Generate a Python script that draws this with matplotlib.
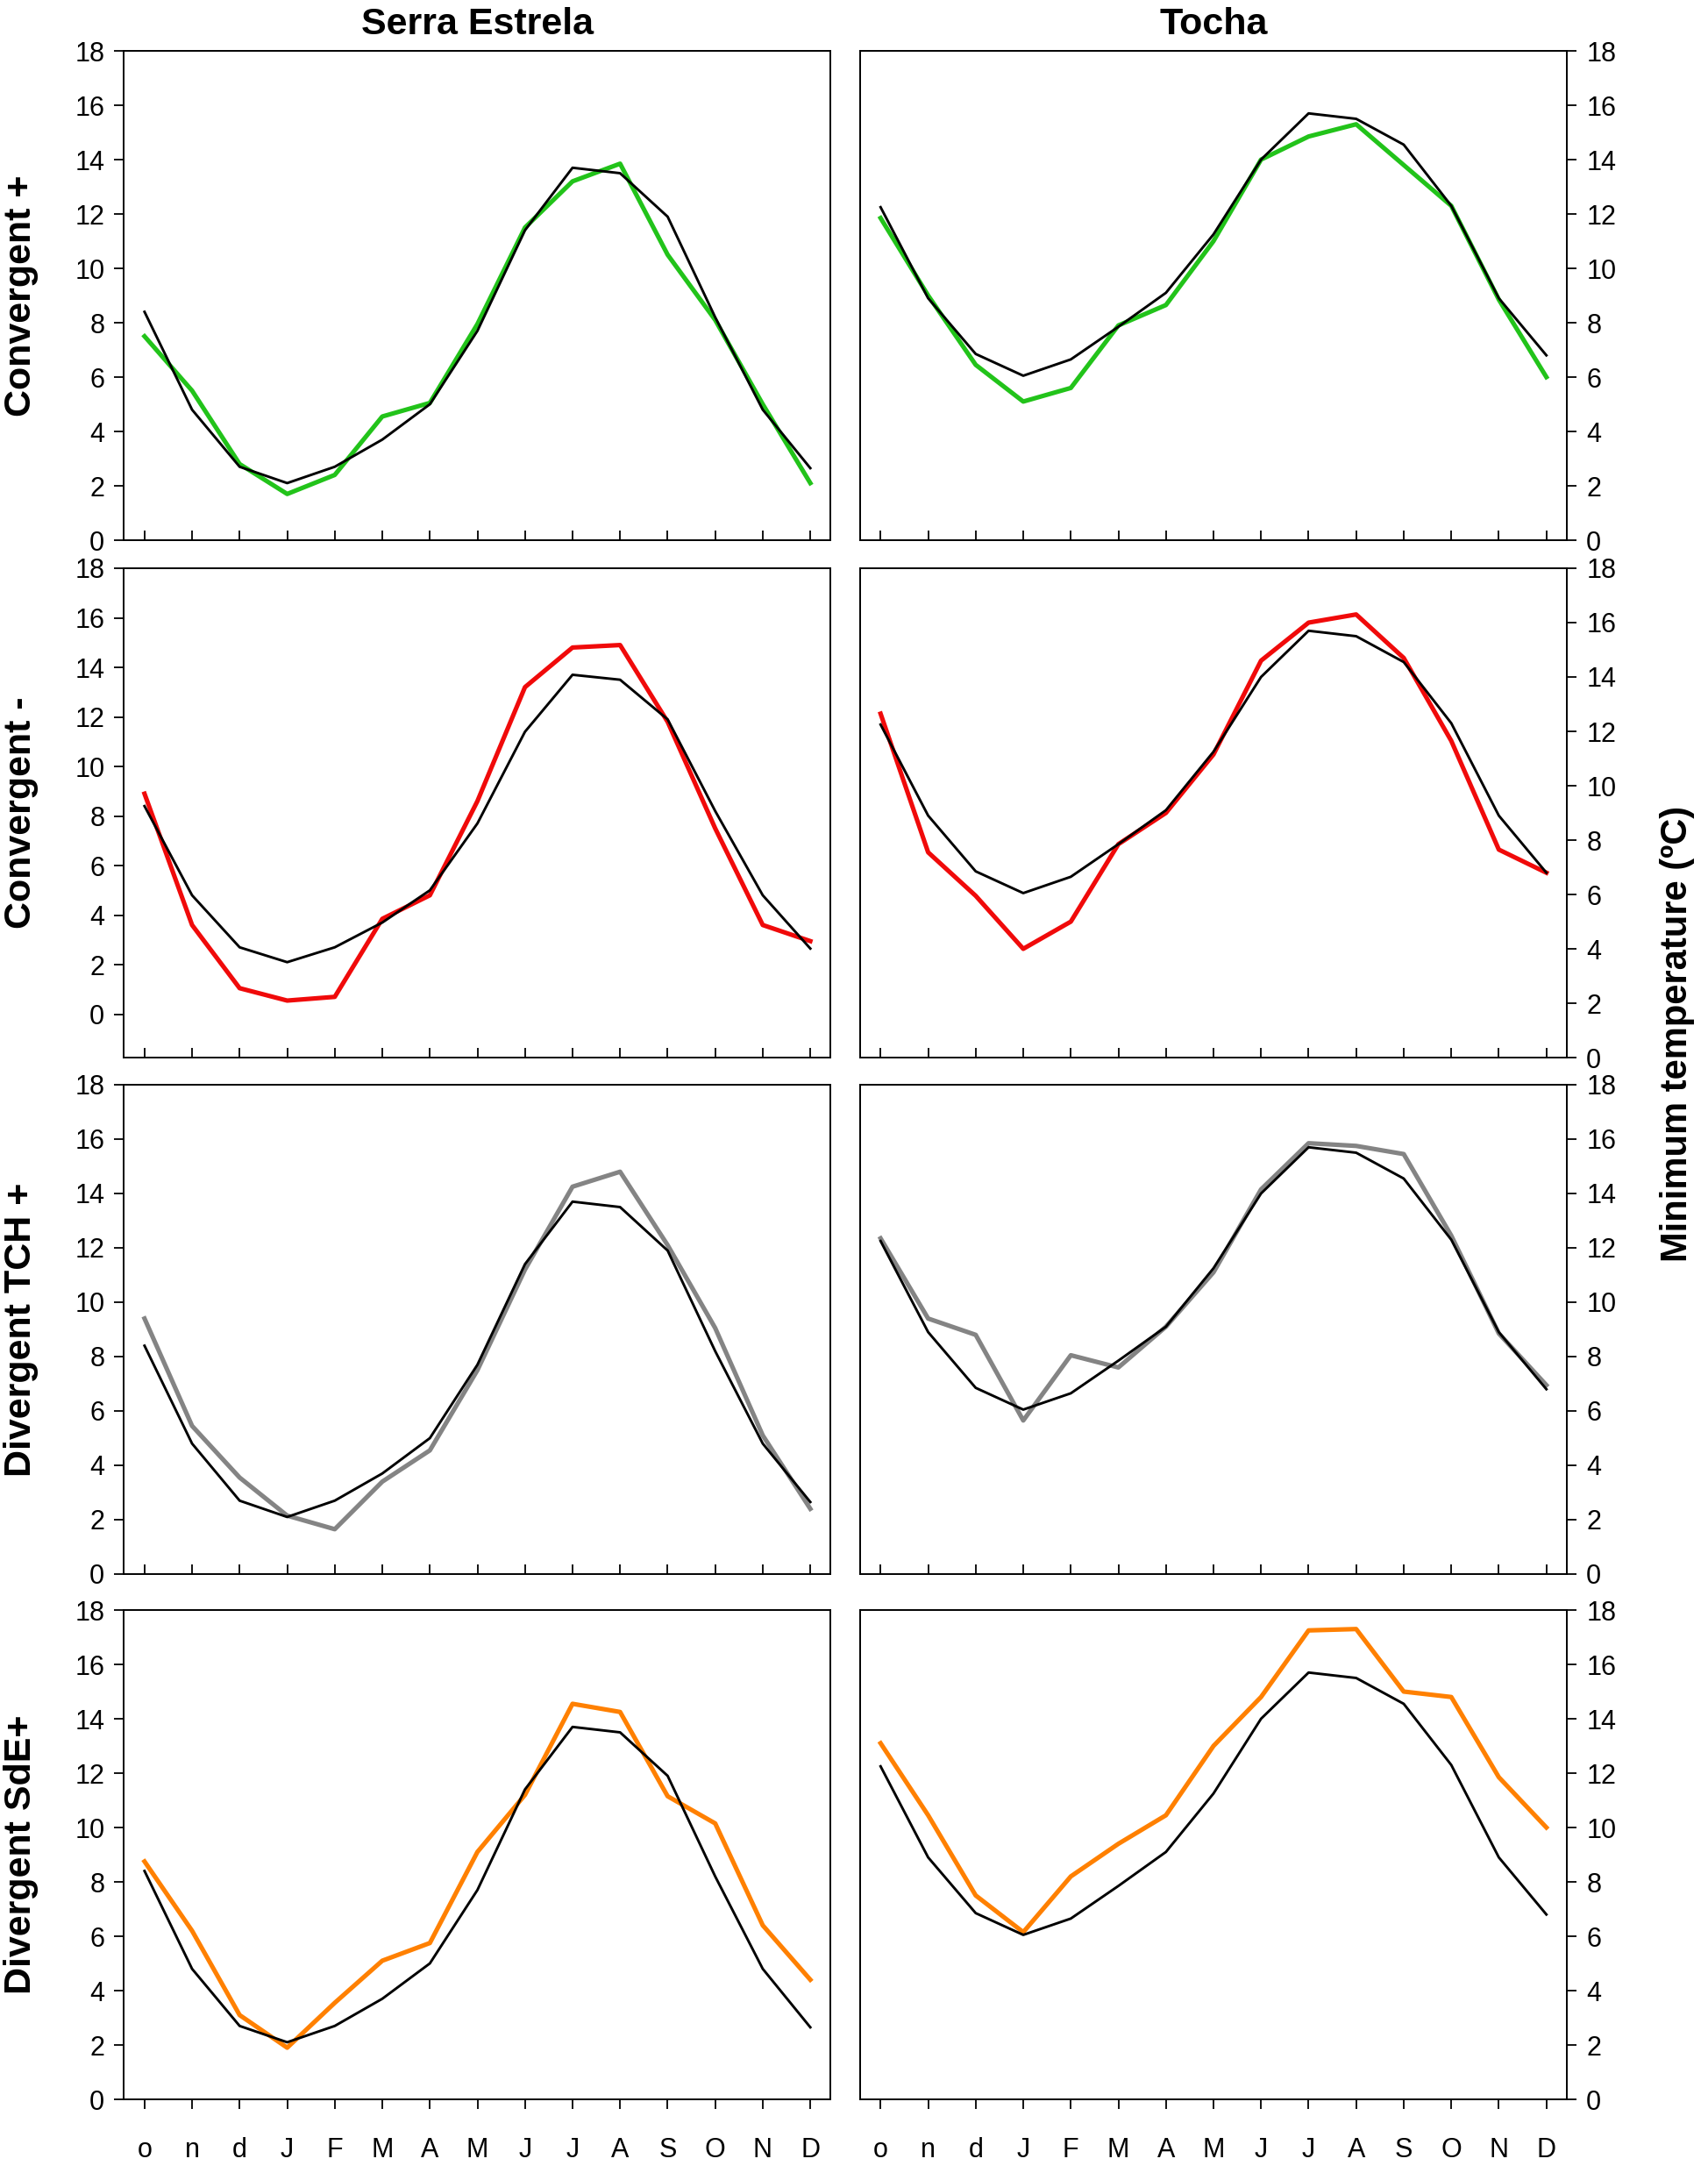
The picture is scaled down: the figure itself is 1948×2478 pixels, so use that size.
import matplotlib
matplotlib.use('Agg')
import matplotlib.pyplot as plt

plt.rcParams['font.family'] = ['Liberation Sans', 'DejaVu Sans']

months = ['o', 'n', 'd', 'J', 'F', 'M', 'A', 'M', 'J', 'J', 'A', 'S', 'O', 'N', 'D']
sites = ['Serra Estrela', 'Tocha']
row_labels = ['Convergent +', 'Convergent -', 'Divergent TCH +', 'Divergent SdE+']
ylabel_right = 'Minimum temperature (ºC)'

# Black reference (mean) curves
ref_serra = [8.4, 4.8, 2.7, 2.1, 2.7, 3.7, 5.0, 7.7, 11.4, 13.7, 13.5, 11.9, 8.2, 4.8, 2.65]
ref_tocha = [12.25, 8.9, 6.85, 6.05, 6.65, 7.85, 9.1, 11.25, 14.0, 15.7, 15.5, 14.55, 12.3, 8.9, 6.8]

# Coloured curves, Serra Estrela
conv_pos_se = [7.5, 5.5, 2.8, 1.7, 2.4, 4.55, 5.05, 7.95, 11.5, 13.2, 13.85, 10.5, 8.1, 5.0, 2.1]
conv_neg_se = [8.9, 3.6, 1.05, 0.55, 0.7, 3.85, 4.8, 8.6, 13.2, 14.8, 14.9, 11.8, 7.5, 3.6, 2.95]
div_tch_se = [9.4, 5.45, 3.55, 2.15, 1.65, 3.4, 4.55, 7.5, 11.2, 14.25, 14.8, 12.1, 9.05, 5.1, 2.4]
div_sde_se = [8.75, 6.2, 3.1, 1.9, 3.55, 5.1, 5.75, 9.1, 11.2, 14.55, 14.25, 11.15, 10.15, 6.4, 4.4]

# Coloured curves, Tocha
conv_pos_to = [11.85, 9.0, 6.45, 5.1, 5.6, 7.9, 8.65, 11.0, 14.0, 14.85, 15.3, 13.8, 12.3, 8.85, 6.0]
conv_neg_to = [12.65, 7.55, 5.95, 4.0, 5.0, 7.85, 9.0, 11.15, 14.6, 16.0, 16.3, 14.7, 11.65, 7.65, 6.8]
div_tch_to = [12.35, 9.4, 8.8, 5.65, 8.05, 7.6, 9.1, 11.1, 14.15, 15.85, 15.75, 15.45, 12.45, 8.85, 6.95]
div_sde_to = [13.1, 10.45, 7.5, 6.15, 8.2, 9.4, 10.45, 13.0, 14.8, 17.25, 17.3, 15.0, 14.8, 11.85, 10.0]

colors = ['#22c31a', '#f00a0a', '#848484', '#ff8000']
series = [
    [conv_pos_se, conv_pos_to],
    [conv_neg_se, conv_neg_to],
    [div_tch_se, div_tch_to],
    [div_sde_se, div_sde_to],
]
refs = [ref_serra, ref_tocha]

W, H = 1949, 2478
fig = plt.figure(figsize=(W / 100, H / 100), dpi=100)

lefts = [141.5 / W, 981.0 / W]
width = 806.0 / W
tops = [58, 648, 1237, 1836]
height = 558.0 / H

x = list(range(len(months)))
for r in range(4):
    for c in range(2):
        bottom = 1 - (tops[r] + 558.0) / H
        ax = fig.add_axes([lefts[c], bottom, width, height])
        ax.plot(x, series[r][c], color=colors[r], lw=3.7, zorder=2)
        ax.plot(x, refs[c], color='black', lw=2.1, zorder=3)
        ax.set_xlim(-0.43, 14.43)
        if r == 1 and c == 0:
            ax.set_ylim(-1.75, 18)
        else:
            ax.set_ylim(0, 18)
        ax.set_yticks(range(0, 19, 2))
        ax.set_xticks(x)
        for s in ax.spines.values():
            s.set_linewidth(1.4)
        ax.tick_params(axis='y', direction='out', length=8, width=1.3,
                       labelsize=22, pad=8)
        if c == 1:
            ax.yaxis.tick_right()
        if r == 3:
            ax.set_xticklabels(months)
            ax.tick_params(axis='x', direction='out', length=8, width=1.3,
                           labelsize=22, pad=23)
        else:
            ax.set_xticklabels([])
            ax.tick_params(axis='x', direction='in', length=8, width=1.3)
        if c == 0:
            yc = 1 - (tops[r] + 279.0) / H
            fig.text(24.0 / W, yc, row_labels[r], rotation=90, fontsize=31,
                     fontweight='bold', ha='center', va='center')
        if r == 0:
            fig.text(lefts[c] + width / 2, 1 - 28.0 / H, sites[c], fontsize=31,
                     fontweight='bold', ha='center', va='center')

fig.text(1913.0 / W, 1 - 1179.0 / H, ylabel_right, rotation=90, fontsize=30,
         fontweight='bold', ha='center', va='center')

fig.savefig('out.png', dpi=100)
